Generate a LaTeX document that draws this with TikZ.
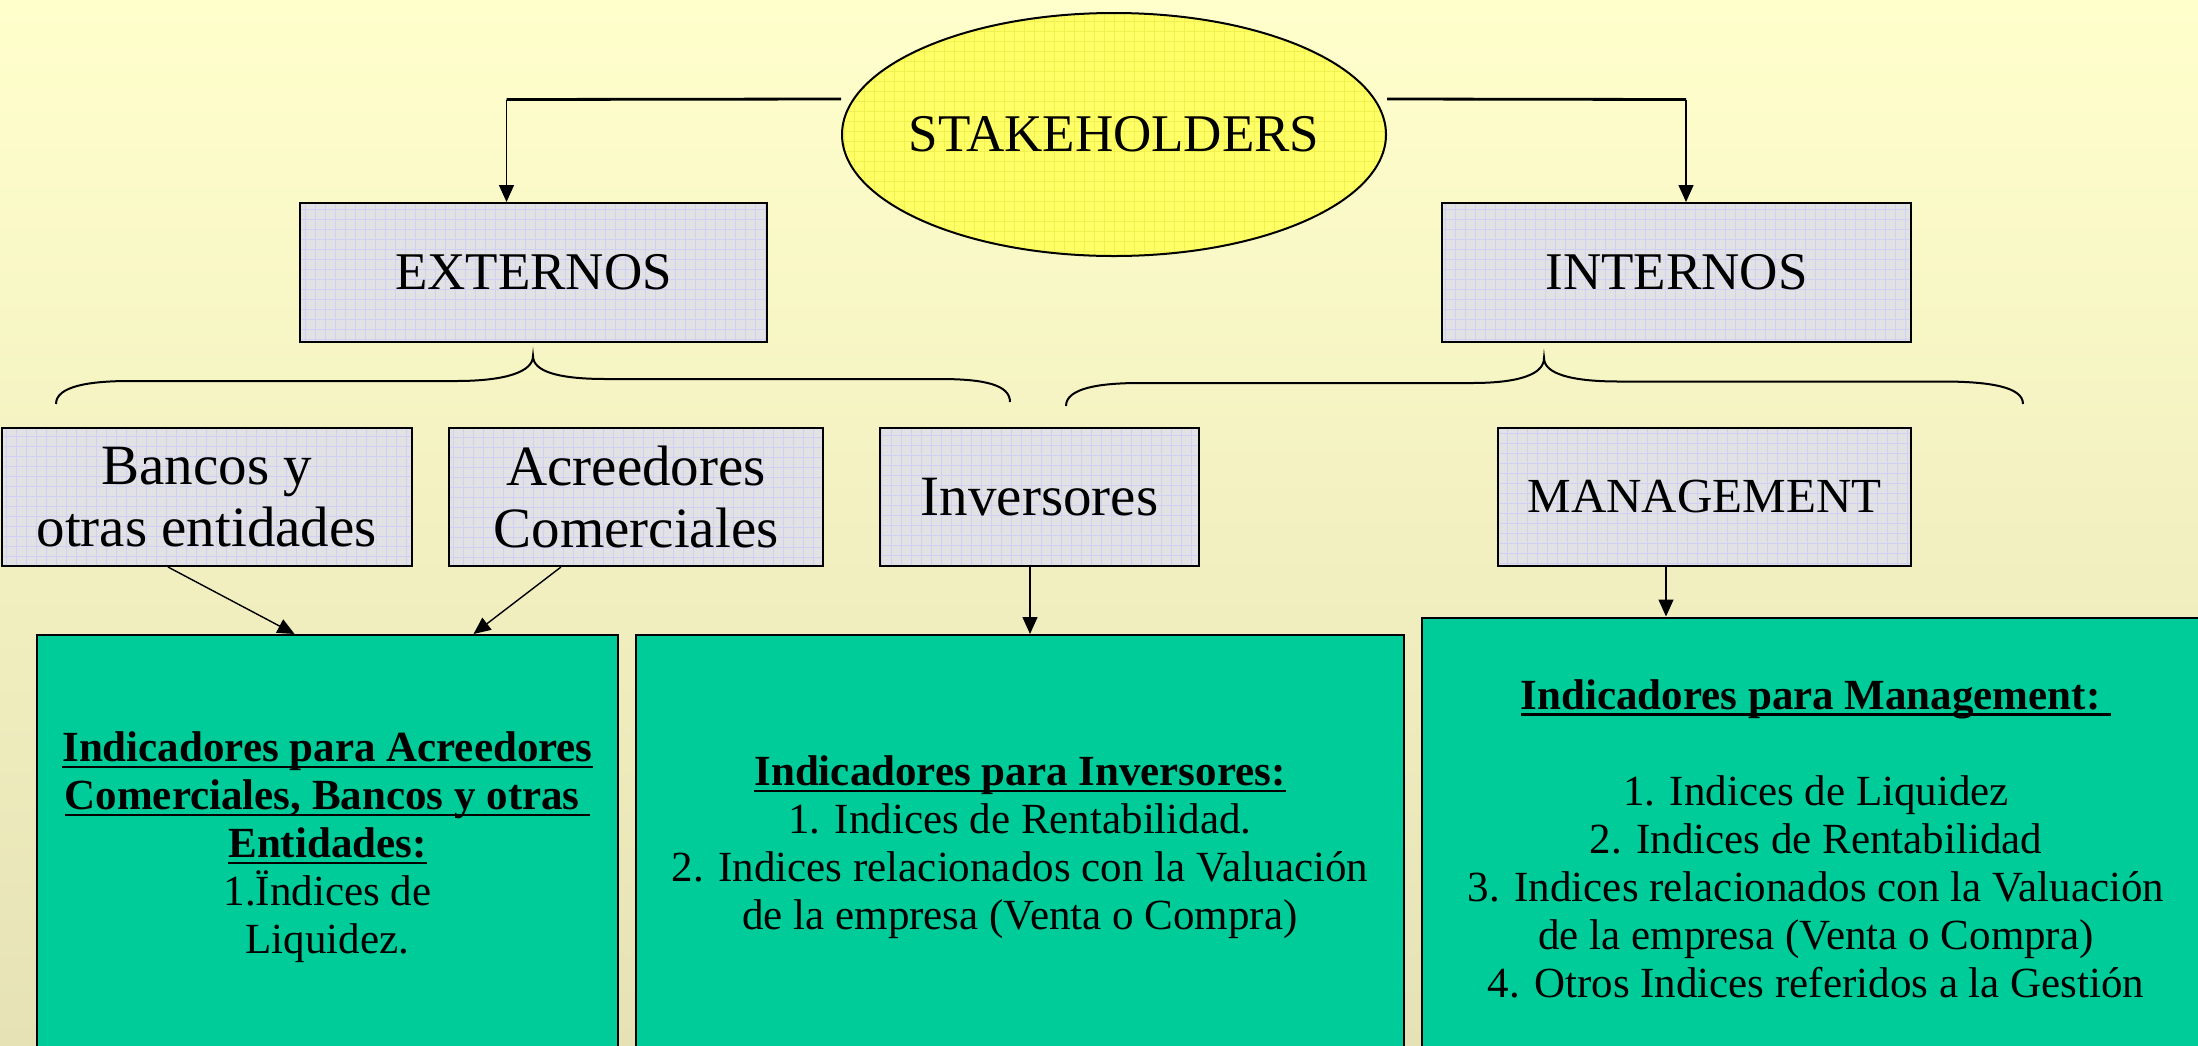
\documentclass[tikz,border=0pt]{standalone}
\usepackage{fontspec}
\setmainfont{Liberation Serif}
\usetikzlibrary{shapes.geometric,arrows.meta}
\definecolor{bgtop}{RGB}{255,255,204}
\definecolor{bgbot}{RGB}{230,226,182}
\definecolor{ylw}{RGB}{255,255,102}
\definecolor{ylwgrid}{RGB}{240,240,80}
\definecolor{boxgray}{RGB}{226,226,228}
\definecolor{boxgrid}{RGB}{208,208,245}
\definecolor{grn}{RGB}{0,204,153}
\newsavebox\ulbox
\newcommand\ulx[1]{\sbox\ulbox{#1}\rlap{\rule[-3.3pt]{\wd\ulbox}{1.3pt}}\usebox\ulbox}
\begin{document}
\begin{tikzpicture}[x=0.5pt,y=-0.5pt,
  graybox/.style={draw=black,line width=1pt,fill=boxgray,inner sep=0pt,align=center,
    font=\fontsize{26.5}{31}\selectfont,
    path picture={\draw[boxgrid,line width=0.3pt,step=5pt] (path picture bounding box.south west) grid (path picture bounding box.north east);}},
  lowbox/.style={graybox,font=\fontsize{28.5}{31}\selectfont},
  stk/.style={ellipse,draw=black,line width=1pt,fill=ylw,inner sep=0pt,
    minimum width=272pt,minimum height=121.5pt,font=\fontsize{26.5}{31}\selectfont,
    path picture={\draw[ylwgrid,line width=0.3pt,step=5pt] (path picture bounding box.south west) grid (path picture bounding box.north east);}},
  grnbox/.style={draw=black,line width=1pt,fill=grn,inner sep=0pt,align=center,
    font=\fontsize{21.5}{24}\selectfont},
  arr/.style={-{Triangle[length=8.5pt,width=7.5pt]},line width=0.7pt},
  hline/.style={line width=1.4pt},
  bracel/.style={line width=1pt}]
\useasboundingbox (0,0) rectangle (2198,1045);
\shade[top color=bgtop,bottom color=bgbot] (0,0) rectangle (2198,1045);

% top level
\node[stk] (stake) at (1114,134.5) {\makebox[0pt]{STAKEHOLDERS}};
\node[graybox,minimum width=233.5pt,minimum height=69.5pt] (ext) at (533.5,272.5) {EXTERNOS};
\node[graybox,minimum width=234.5pt,minimum height=69.5pt] (int) at (1676.5,272.5) {INTERNOS};

% second row
\node[lowbox,minimum width=205.25pt,minimum height=69pt] (banc) at (206.75,497) {Bancos y\\otras entidades};
\node[lowbox,minimum width=187pt,minimum height=69pt] (acre) at (636,497) {Acreedores\\Comerciales};
\node[lowbox,minimum width=159.5pt,minimum height=69pt] (inv) at (1039.5,497) {Inversores};
\node[graybox,minimum width=206.5pt,minimum height=69pt,font=\fontsize{24.5}{29}\selectfont] (mgmt) at (1704.5,497) {MANAGEMENT};

% green boxes
\node[grnbox,minimum width=290.5pt,minimum height=212.5pt] (g1) at (327.5,847.5)
  {\textbf{\ulx{Indicadores para Acreedores}}\\
   \textbf{\ulx{Comerciales, Bancos y otras\ }}\\
   \textbf{\ulx{Entidades:}}\\
   1.Ïndices de\\
   Liquidez.};
\node[grnbox,minimum width=384pt,minimum height=212.5pt] (g2) at (1020,847.5)
  {\textbf{\ulx{Indicadores para Inversores:}}\\
   1. Indices de Rentabilidad.\\
   2. Indices relacionados con la Valuación\\
   de la empresa (Venta o Compra)};
\node[grnbox,minimum width=394pt,minimum height=221.25pt] (g3) at (1816,838.75)
  {\textbf{\ulx{Indicadores para Management:\ }}\\[24pt]
   1. Indices de Liquidez\\
   2. Indices de Rentabilidad\\
   3. Indices relacionados con la Valuación\\
   de la empresa (Venta o Compra)\\
   4. Otros Indices referidos a la Gestión};

% connectors from STAKEHOLDERS
\coordinate (kl) at (506.5,99.5);
\coordinate (kr) at (1686,99.5);
\draw[hline] ([yshift=17.75pt]stake.west) -- (kl);
\draw[arr] (kl) -- (kl |- ext.north);
\draw[hline] ([yshift=17.75pt]stake.east) -- (kr);
\draw[arr] (kr) -- (kr |- int.north);

% braces
\draw[bracel] (56,404) .. controls (56,386) and (90,381) .. (130,381) -- (456,381)
  .. controls (505,381) and (533,372) .. (533,356)
  .. controls (533,372) and (560,379) .. (606,379) -- (940,379)
  .. controls (985,379) and (1010,385) .. (1010,402);
\draw[bracel] (1066,406) .. controls (1066,388) and (1100,383) .. (1140,383) -- (1472,383)
  .. controls (1520,383) and (1544,374) .. (1544,358)
  .. controls (1544,374) and (1572,381.5) .. (1619,381.5) -- (1942,381.5)
  .. controls (1990,381.5) and (2023,387) .. (2023,404);

% connectors to indicator boxes
\draw[arr] ([xshift=-19.375pt]banc.south) -- ([xshift=-16.45pt]g1.north);
\draw[arr] ([xshift=-37.5pt]acre.south) -- ([xshift=73pt]g1.north);
\draw[arr] ([xshift=-4.75pt]inv.south) -- ([xshift=5pt]g2.north);
\draw[arr] ([xshift=-19.25pt]mgmt.south) -- ([xshift=-75pt]g3.north);
\end{tikzpicture}
\end{document}
